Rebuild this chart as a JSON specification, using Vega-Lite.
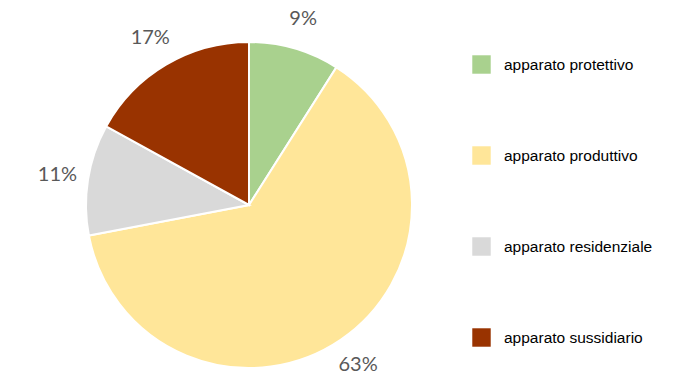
{
  "$schema": "https://vega.github.io/schema/vega-lite/v6.json",
  "width": 498,
  "height": 376,
  "autosize": {"type": "none"},
  "padding": {"left": 0, "top": 17, "right": 202, "bottom": 0},
  "background": "white",
  "config": {"view": {"stroke": null}},
  "data": {
    "values": [
      {"categoria": "apparato protettivo", "valore": 9, "ord": 1, "etichetta": "9%"},
      {"categoria": "apparato produttivo", "valore": 63, "ord": 2, "etichetta": "63%"},
      {"categoria": "apparato residenziale", "valore": 11, "ord": 3, "etichetta": "11%"},
      {"categoria": "apparato sussidiario", "valore": 17, "ord": 4, "etichetta": "17%"}
    ]
  },
  "encoding": {
    "theta": {"field": "valore", "type": "quantitative", "stack": true},
    "order": {"field": "ord", "type": "quantitative"},
    "color": {
      "field": "categoria",
      "type": "nominal",
      "sort": ["apparato protettivo", "apparato produttivo", "apparato residenziale", "apparato sussidiario"],
      "scale": {
        "domain": ["apparato protettivo", "apparato produttivo", "apparato residenziale", "apparato sussidiario"],
        "range": ["#a9d18e", "#ffe699", "#d9d9d9", "#993300"]
      },
      "legend": {
        "title": null,
        "orient": "none",
        "legendX": 472,
        "legendY": 38,
        "symbolType": "square",
        "symbolSize": 340,
        "symbolStrokeWidth": 0,
        "labelFont": "Liberation Sans",
        "labelFontSize": 15.5,
        "labelColor": "#000000",
        "labelOffset": 13,
        "rowPadding": 72,
        "labelLimit": 300
      }
    }
  },
  "layer": [
    {
      "mark": {"type": "arc", "outerRadius": 163, "stroke": "white", "strokeWidth": 2}
    },
    {
      "mark": {"type": "text", "radius": 194, "font": "Lato", "fontSize": 20, "fill": "#595959"},
      "encoding": {
        "text": {"field": "etichetta", "type": "nominal"},
        "color": {"value": "#595959"}
      }
    }
  ]
}
